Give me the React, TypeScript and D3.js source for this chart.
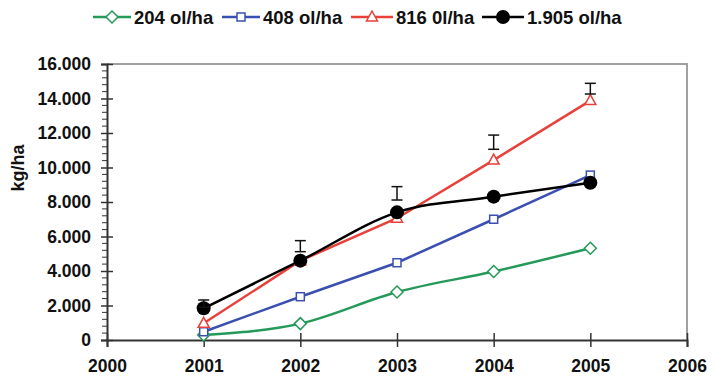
import React, { useRef, useEffect } from "react";
import * as d3 from "d3";

const years = [2001, 2002, 2003, 2004, 2005];
const xTicks = [2000, 2001, 2002, 2003, 2004, 2005, 2006];
const yTicks = [0, 2000, 4000, 6000, 8000, 10000, 12000, 14000, 16000];

const labels = ["204 ol/ha", "408 ol/ha", "816 0l/ha", "1.905 ol/ha"];
const green204 = [290, 950, 2780, 3970, 5320];
const blue408 = [480, 2510, 4480, 7000, 9560];
const red816 = [970, 4600, 7060, 10430, 13880];
const black1905 = [1840, 4600, 7400, 8310, 9120];

// error bars (drawn floating above the points, as in the original)
const errLow = [1900, 5120, 8115, 11055, 14260];
const errHigh = [2320, 5760, 8890, 11880, 14880];

const series = [
  { name: labels[0], values: green204, color: "#24995a", marker: "diamond" },
  { name: labels[1], values: blue408, color: "#3a4fb0", marker: "square" },
  { name: labels[2], values: red816, color: "#e8403a", marker: "triangle" },
  { name: labels[3], values: black1905, color: "#000000", marker: "circle" },
];

const W = 719;
const H = 376;
const FONT = "'Liberation Sans', Arial, sans-serif";

function drawMarker(g, type, color, x, y) {
  if (type === "circle") {
    g.append("circle").attr("cx", x).attr("cy", y).attr("r", 7).attr("fill", color);
  } else if (type === "square") {
    g.append("rect")
      .attr("x", x - 4).attr("y", y - 4).attr("width", 8).attr("height", 8)
      .attr("fill", "#fff").attr("stroke", color).attr("stroke-width", 1.5);
  } else if (type === "diamond") {
    g.append("path")
      .attr("d", `M${x},${y - 6}L${x + 6},${y}L${x},${y + 6}L${x - 6},${y}Z`)
      .attr("fill", "#fff").attr("stroke", color).attr("stroke-width", 1.5);
  } else {
    g.append("path")
      .attr("d", `M${x},${y - 6}L${x + 5.5},${y + 4}L${x - 5.5},${y + 4}Z`)
      .attr("fill", "#fff").attr("stroke", color).attr("stroke-width", 1.5);
  }
}

function App() {
  const ref = useRef();

  useEffect(() => {
    const svg = d3.select(ref.current);
    svg.selectAll("*").remove();

    const x = d3.scaleLinear().domain([2000, 2006]).range([107, 687]);
    const y = d3.scaleLinear().domain([0, 16000]).range([340, 64]);
    const fmt = d3.formatLocale({ decimal: ",", thousands: ".", grouping: [3], currency: ["", ""] }).format(",");

    svg.append("rect").attr("width", W).attr("height", H).attr("fill", "#fff");

    // frame (top + right grey)
    svg.append("path")
      .attr("d", `M107,64H687V340`)
      .attr("fill", "none").attr("stroke", "#a0a0a0").attr("stroke-width", 2);

    // y axis
    const yAxis = svg.append("g").attr("transform", "translate(107,0)")
      .call(d3.axisLeft(y).tickValues(yTicks).tickFormat(fmt).tickSize(6).tickPadding(10));
    yAxis.select(".domain").attr("stroke", "#333").attr("stroke-width", 2);
    yAxis.selectAll(".tick line").attr("x2", 6).attr("x1", -6).attr("stroke", "#333").attr("stroke-width", 1.5);
    yAxis.selectAll(".tick text")
      .attr("font-family", FONT).attr("font-size", 17.5).attr("font-weight", "bold").attr("fill", "#111");

    // minor y ticks
    const minor = d3.range(0, 16001, 400).filter((v) => v % 2000 !== 0);
    svg.append("g").selectAll("line").data(minor).join("line")
      .attr("x1", 102).attr("x2", 107)
      .attr("y1", (d) => y(d)).attr("y2", (d) => y(d))
      .attr("stroke", "#333").attr("stroke-width", 1);

    // x axis
    const xAxis = svg.append("g").attr("transform", "translate(0,340)")
      .call(d3.axisBottom(x).tickValues(xTicks).tickFormat(d3.format("d")).tickSize(7).tickPadding(13));
    xAxis.select(".domain").attr("stroke", "#333").attr("stroke-width", 2);
    xAxis.selectAll(".tick line").attr("y1", -7).attr("y2", 7).attr("stroke", "#333").attr("stroke-width", 1.5);
    xAxis.selectAll(".tick text")
      .attr("font-family", FONT).attr("font-size", 17.5).attr("font-weight", "bold").attr("fill", "#111");

    // y title
    svg.append("text")
      .attr("transform", "translate(24,168) rotate(-90)")
      .attr("text-anchor", "middle")
      .attr("font-family", FONT).attr("font-size", 18).attr("font-weight", "bold").attr("fill", "#111")
      .text("kg/ha");

    // lines + markers
    series.forEach((s) => {
      const line = d3.line()
        .x((d, i) => x(years[i]))
        .y((d) => y(d));
      if (s.marker === "circle" || s.marker === "diamond") line.curve(d3.curveMonotoneX);
      svg.append("path").datum(s.values)
        .attr("d", line)
        .attr("fill", "none").attr("stroke", s.color).attr("stroke-width", 2.5);
    });
    series.forEach((s) => {
      const g = svg.append("g");
      s.values.forEach((v, i) => drawMarker(g, s.marker, s.color, x(years[i]), y(v)));
    });

    // error bars
    const eb = svg.append("g").attr("stroke", "#111").attr("stroke-width", 1.5);
    years.forEach((yr, i) => {
      const cx = x(yr);
      eb.append("line").attr("x1", cx).attr("x2", cx).attr("y1", y(errLow[i])).attr("y2", y(errHigh[i]));
      eb.append("line").attr("x1", cx - 5.5).attr("x2", cx + 5.5).attr("y1", y(errLow[i])).attr("y2", y(errLow[i]));
      eb.append("line").attr("x1", cx - 5.5).attr("x2", cx + 5.5).attr("y1", y(errHigh[i])).attr("y2", y(errHigh[i]));
    });

    // legend
    const legendX = [93, 222, 351, 482];
    const leg = svg.append("g");
    series.forEach((s, i) => {
      const lx = legendX[i];
      const len = i < 2 ? 38 : 42;
      leg.append("line").attr("x1", lx).attr("x2", lx + len).attr("y1", 17).attr("y2", 17)
        .attr("stroke", s.color).attr("stroke-width", 2.5);
      drawMarker(leg, s.marker, s.color, lx + len / 2, 17);
      leg.append("text")
        .attr("x", lx + len + 3).attr("y", 23.5)
        .attr("font-family", FONT).attr("font-size", 18.5).attr("font-weight", "bold").attr("fill", "#111")
        .text(s.name);
    });
  }, []);

  return (
    <svg ref={ref} width={W} height={H}
      style={{ position: "absolute", left: 0, top: 0, display: "block" }}></svg>
  );
}

export default App;
